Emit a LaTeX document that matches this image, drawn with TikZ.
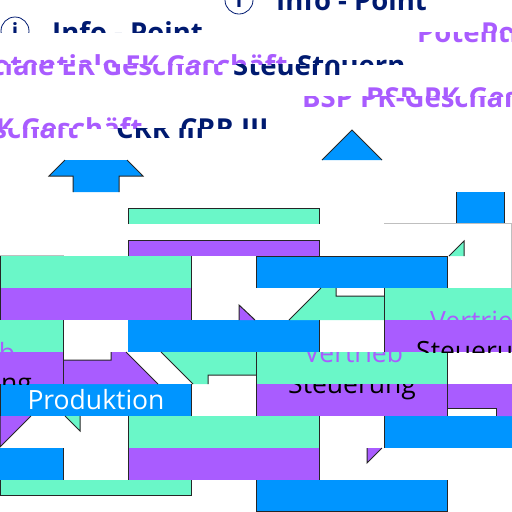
\documentclass[tikz,border=0pt]{standalone}
\usepackage{fontspec}
\setmainfont{Open Sans}
\definecolor{mintband}{HTML}{6AF7C8}
\definecolor{lilaband}{HTML}{A95CFF}
\definecolor{blueband}{HTML}{0095FF}
\definecolor{navytext}{HTML}{001A70}
\tikzset{
    rim/.style={draw=black!85, line width=1pt},
    palerim/.style={draw=black!25, line width=0.8pt},
    headtext/.style={inner sep=0pt, anchor=base west, text=navytext, font=\fontsize{27.5}{30}\selectfont\bfseries},
    lilatext/.style={inner sep=0pt, anchor=base west, text=lilaband, font=\fontsize{27.5}{30}\selectfont\bfseries},
    thinlila/.style={inner sep=0pt, anchor=base west, text=lilaband, font=\fontsize{26.5}{30}\selectfont},
    bodytext/.style={inner sep=0pt, anchor=base west, text=black, font=\fontsize{26.5}{30}\selectfont},
    infomark/.style={circle, draw=navytext, line width=0.8pt, minimum size=28pt, inner sep=0pt, text=navytext, font=\fontsize{21}{24}\selectfont\bfseries},
}
% name, clip corners, text position, style, text
\newcommand{\cuttext}[9]{
    \begin{scope}
        \clip (#2,#3) rectangle (#4,#5);
        \node[#8] (#1) at (#6,#7) {#9};
    \end{scope}
}
\begin{document}
\begin{tikzpicture}[x=1pt,y=-1pt]
    \useasboundingbox (0,0) rectangle (512,512);

    % bands
    \fill[mintband] (128,208) rectangle (320,224);
    \fill[lilaband] (128,240) rectangle (320,256);
    \fill[mintband] (0,256) rectangle (192,288);
    \fill[lilaband] (0,288) rectangle (192,320);
    \fill[blueband] (256,256) rectangle (448,288);
    \fill[mintband] (384,288) rectangle (512,320);
    \fill[lilaband] (384,320) rectangle (512,352);
    \fill[mintband] (0,320) rectangle (64,352);
    \fill[lilaband] (0,352) rectangle (64,384);
    \fill[blueband] (128,320) rectangle (320,352);
    \fill[mintband] (256,352) rectangle (448,384);
    \fill[lilaband] (256,384) rectangle (448,416);
    \fill[blueband] (0,384) rectangle (192,416);
    \fill[mintband] (128,416) rectangle (320,448);
    \fill[lilaband] (128,448) rectangle (320,480);
    \fill[blueband] (384,416) rectangle (512,448);
    \fill[blueband] (0,448) rectangle (64,480);
    \fill[mintband] (0,480) rectangle (192,496);
    \fill[blueband] (256,480) rectangle (448,512);

    % arrow pieces
    \fill[blueband] (49,176) -- (65,160) -- (127,160) -- (143,176) -- (119,176) -- (119,192) -- (73,192) -- (73,176) -- cycle;
    \draw[rim] (65,160) -- (49,176) -- (73,176) -- (73,192) (127,160) -- (143,176) -- (119,176) -- (119,192);
    \filldraw[fill=blueband,rim] (322,160) -- (352,130) -- (382,160);
    \fill[blueband] (456,192) rectangle (504,224);
    \draw[rim] (456,224) -- (456,192) (504,192) -- (504,224);
    \filldraw[fill=mintband,rim] (449,256) -- (464,241) -- (464,256);
    \filldraw[fill=lilaband,rim] (239,320) -- (239,305) -- (255,320);
    \fill[mintband] (289,320) -- (321,288) -- (336,288) -- (336,296) -- (384,296) -- (384,320);
    \draw[rim] (289,320) -- (321,288) (336,288) -- (336,296) -- (384,296);
    \fill[lilaband] (64,384) -- (64,360) -- (111,360) -- (111,352) -- (126,352) -- (158,384);
    \draw[rim] (64,360) -- (111,360) -- (111,352) (126,352) -- (158,384);
    \fill[mintband] (161,352) -- (193,384) -- (208,384) -- (208,375) -- (256,375) -- (256,352);
    \draw[rim] (161,352) -- (193,384) (208,384) -- (208,375) -- (256,375);
    \filldraw[fill=lilaband,rim] (0,416) -- (0,447) -- (31,416);
    \filldraw[fill=mintband,rim] (65,416) -- (80,431) -- (80,416);
    \fill[lilaband] (448,408) -- (496,408) -- (496,416) -- (512,416) -- (512,384) -- (448,384);
    \draw[rim] (448,408) -- (496,408) -- (496,416);
    \filldraw[fill=lilaband,rim] (367,448) -- (367,463) -- (382,448);

    % band edges
    \draw[rim] (128,224) -- (128,208) -- (319.5,208) -- (319.5,224);
    \draw[rim] (128,256) -- (128,240) -- (319.5,240) -- (319.5,256);
    \draw[rim] (0.5,256) -- (0.5,320) (191.5,256) -- (191.5,320);
    \draw[rim] (256,288) -- (256,256) -- (447.5,256) -- (447.5,288);
    \draw[rim] (63.5,320) -- (63.5,384) (319.5,320) -- (319.5,352);
    \draw[rim] (384,288) -- (384,352) (256,352) -- (256,416) (447.5,352) -- (447.5,416);
    \draw[rim] (0.5,384) -- (0.5,416) (191.5,384) -- (191.5,416);
    \draw[rim] (128,416) -- (128,480) (319.5,416) -- (319.5,480) (384,416) -- (384,448);
    \draw[rim] (63.5,448) -- (63.5,480);
    \draw[rim] (0.5,480) -- (0.5,495.5) -- (191.5,495.5) -- (191.5,480);
    \draw[rim] (256,480) -- (256,511.5) -- (447.5,511.5) -- (447.5,480);
    \draw[palerim] (0,255.5) -- (64,255.5);
    \draw[palerim] (384,223.5) -- (512,223.5) (511.5,224) -- (511.5,288);

    % info marks
    \begin{scope}
        \clip (0,0) rectangle (40,32);
        \node[infomark] (infoa) at (15,31) {i};
    \end{scope}
    \begin{scope}
        \clip (210,0) rectangle (270,16);
        \node[infomark] (infob) at (239,0) {i};
    \end{scope}

    % cut lines of text
    \cuttext{pointa}{0}{0}{256}{32}{52}{42}{headtext}{Info - Point}
    \cuttext{pointb}{256}{0}{512}{16}{276}{10}{headtext}{Info - Point}
    \cuttext{potentiala}{416}{32}{512}{48}{417}{42}{lilatext}{Potentiale}
    \cuttext{potentialb}{480}{16}{512}{32}{481}{42}{lilatext}{Potentiale}
    \cuttext{ekupper}{0}{48}{296}{64}{-24}{75}{lilatext}{Potentiale EK Geschäft}
    \cuttext{eklower}{0}{64}{232}{80}{-88}{75}{lilatext}{Potentiale EK Geschäft}
    \cuttext{steuerupper}{280}{48}{512}{64}{297}{75}{headtext}{Steuern}
    \cuttext{steuerlower}{232}{64}{512}{80}{233}{75}{headtext}{Steuern}
    \cuttext{bspupper}{320}{80}{512}{96}{366}{107}{lilatext}{BSP PK-Geschäft}
    \cuttext{bsplower}{288}{96}{512}{112}{302}{107}{lilatext}{BSP PK-Geschäft}
    \cuttext{ekcutupper}{0}{112}{150}{128}{-169}{138}{lilatext}{Potentiale EK Geschäft}
    \cuttext{ekcutlower}{0}{128}{90}{144}{-233}{138}{lilatext}{Potentiale EK Geschäft}
    \cuttext{crrupper}{176}{112}{280}{128}{180}{138}{headtext}{CRR III}
    \cuttext{crrlower}{112}{128}{210}{144}{116}{138}{headtext}{CRR III}

    \cuttext{vertrieba}{384}{288}{512}{320}{430}{330}{thinlila}{Vertrieb}
    \cuttext{vertriebb}{256}{352}{448}{384}{304}{362}{thinlila}{Vertrieb}
    \cuttext{vertriebc}{0}{320}{64}{352}{-84}{362}{thinlila}{Vertrieb}
    \cuttext{steuerunga}{384}{320}{512}{352}{416}{360}{bodytext}{Steuerung}
    \cuttext{steuerungb}{256}{384}{448}{416}{288}{393}{bodytext}{Steuerung}
    \cuttext{steuerungc}{0}{352}{64}{384}{-96}{392}{bodytext}{Steuerung}

    \node[inner sep=0pt, anchor=base, text=white, font=\fontsize{26.5}{30}\selectfont] (produktion) at (96,409) {Produktion};
\end{tikzpicture}
\end{document}
